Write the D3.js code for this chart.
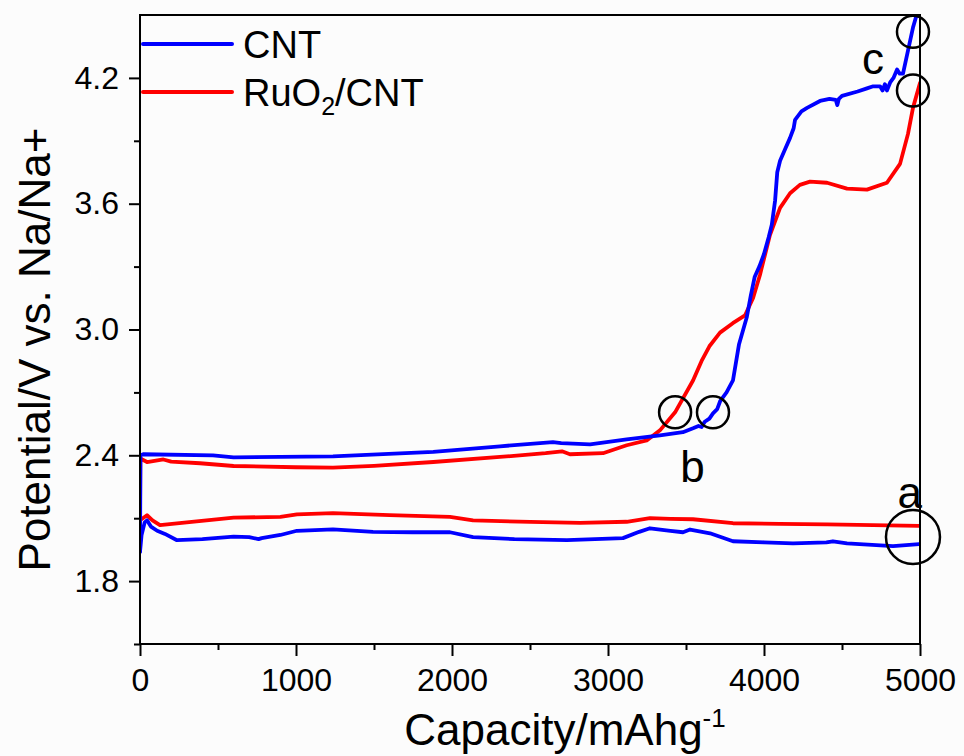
<!DOCTYPE html>
<html>
<head>
<meta charset="utf-8">
<script src="https://cdn.jsdelivr.net/npm/d3@7/dist/d3.min.js"></script>
<style>
  html, body { margin: 0; padding: 0; background: #fcfcfc; }
  svg { display: block; font-family: "Liberation Sans", Arial, sans-serif; }
</style>
</head>
<body>
<svg id="chart" width="964" height="756"></svg>
<script>
// Galvanostatic discharge/charge profiles, [capacity (mAh/g), potential (V)]
const cntDischarge = [
  [0,1.94],[10,2.02],[30,2.08],[45,2.09],[70,2.06],[110,2.04],[160,2.025],[237,1.995],
  [400,2.0],[600,2.012],[700,2.01],[760,2.0],[780,2.005],[900,2.02],[1006,2.04],
  [1237,2.047],[1494,2.035],[1750,2.033],[1987,2.033],[2135,2.01],[2400,2.0],[2737,1.995],
  [3096,2.005],[3200,2.035],[3269,2.052],[3400,2.04],[3481,2.033],[3526,2.046],[3654,2.028],
  [3801,1.99],[4000,1.985],[4186,1.98],[4400,1.985],[4442,1.99],[4532,1.98],[4827,1.967],[4994,1.976]
];
const ruo2Discharge = [
  [0,2.09],[45,2.114],[80,2.09],[128,2.067],[300,2.08],[600,2.103],[900,2.106],[1006,2.118],
  [1237,2.124],[1600,2.115],[1987,2.106],[2135,2.09],[2500,2.082],[2821,2.078],[3120,2.083],
  [3269,2.1],[3400,2.097],[3545,2.095],[3801,2.076],[4100,2.073],[4404,2.071],[4994,2.063]
];
const cntCharge = [
  [0,1.94],[3,2.4],[20,2.405],[468,2.4],[600,2.39],[1237,2.395],[1880,2.416],[2308,2.443],
  [2647,2.463],[2700,2.458],[2885,2.452],[3120,2.476],[3333,2.495],[3480,2.51],[3545,2.529],
  [3580,2.54],[3600,2.535],[3620,2.56],[3650,2.575],[3673,2.6],[3700,2.62],[3720,2.66],
  [3760,2.7],[3801,2.757],[3840,2.93],[3890,3.06],[3915,3.16],[3940,3.25],[3970,3.3],
  [4000,3.36],[4030,3.44],[4050,3.5],[4071,3.614],[4085,3.75],[4103,3.805],
  [4135,3.86],[4167,3.914],[4190,3.96],[4199,4.0],[4240,4.04],[4276,4.057],[4359,4.09],
  [4420,4.1],[4460,4.095],[4470,4.07],[4480,4.1],[4500,4.114],[4600,4.135],[4660,4.15],
  [4700,4.16],[4744,4.16],[4760,4.14],[4775,4.17],[4788,4.14],[4810,4.18],[4830,4.2],
  [4853,4.24],[4870,4.22],[4891,4.22],[4923,4.33],[4955,4.44],[4990,4.53]
];
const ruo2Charge = [
  [0,2.09],[2,2.385],[45,2.368],[150,2.38],[200,2.37],[385,2.362],[600,2.349],[1000,2.343],
  [1237,2.341],[1500,2.35],[1880,2.368],[2308,2.392],[2600,2.41],[2705,2.419],[2756,2.405],
  [2968,2.41],[3120,2.448],[3248,2.471],[3333,2.519],[3430,2.605],[3545,2.757],[3600,2.85],
  [3650,2.92],[3718,2.985],[3800,3.03],[3878,3.067],[3930,3.15],[3974,3.26],[4038,3.45],
  [4103,3.58],[4167,3.65],[4230,3.69],[4295,3.705],[4404,3.7],[4532,3.672],[4660,3.667],
  [4788,3.7],[4872,3.79],[4923,3.933],[4955,4.057],[5000,4.176]
];

const xTicks = [0, 1000, 2000, 3000, 4000, 5000];
const xMinorTicks = [500, 1500, 2500, 3500, 4500];
const yTicks = [1.8, 2.4, 3.0, 3.6, 4.2];
const yMinorTicks = [1.5, 2.1, 2.7, 3.3, 3.9];

// Marked states: circles at [capacity, potential] and their letters
const markers = [
  { x: 4955, y: 2.01, big: true },
  { x: 3430, y: 2.605, big: false },
  { x: 3673, y: 2.605, big: false },
  { x: 4955, y: 4.42, big: false },
  { x: 4955, y: 4.14, big: false }
];
const letters = [
  { text: "a", x: 4855, y: 2.15 },
  { text: "b", x: 3463, y: 2.274 },
  { text: "c", x: 4628, y: 4.218 }
];

const seriesNames = ["CNT", "RuO2/CNT"];
const seriesColors = ["#0000ff", "#ff0000"];

const svg = d3.select("#chart");
const plotLeft = 140, plotRight = 920, plotTop = 15, plotBottom = 644;

const x = d3.scaleLinear().domain([0, 5000]).range([plotLeft, plotRight]);
const y = d3.scaleLinear().domain([1.5, 4.5]).range([plotBottom, plotTop]);

svg.append("defs").append("clipPath").attr("id", "plotClip")
  .append("rect").attr("x", plotLeft).attr("y", plotTop)
  .attr("width", plotRight - plotLeft).attr("height", plotBottom - plotTop);

const line = d3.line().x(d => x(d[0])).y(d => y(d[1]));

const plot = svg.append("g").attr("clip-path", "url(#plotClip)");
[[ruo2Discharge, 1], [ruo2Charge, 1], [cntDischarge, 0], [cntCharge, 0]].forEach(([data, i]) => {
  plot.append("path").datum(data)
    .attr("d", line)
    .attr("fill", "none")
    .attr("stroke", seriesColors[i])
    .attr("stroke-width", 3.8)
    .attr("stroke-linejoin", "round")
    .attr("stroke-linecap", "round");
});

// frame
svg.append("rect").attr("x", plotLeft).attr("y", plotTop)
  .attr("width", plotRight - plotLeft).attr("height", plotBottom - plotTop)
  .attr("fill", "none").attr("stroke", "#000").attr("stroke-width", 2);

// x axis
svg.append("g").attr("transform", `translate(0,${plotBottom})`)
  .call(d3.axisBottom(x).tickValues(xTicks).tickSize(12).tickPadding(12).tickFormat(d3.format("d")));
svg.append("g").attr("transform", `translate(0,${plotBottom})`)
  .call(d3.axisBottom(x).tickValues(xMinorTicks).tickSize(6).tickFormat(""));

// y axis
svg.append("g").attr("transform", `translate(${plotLeft},0)`)
  .call(d3.axisLeft(y).tickValues(yTicks).tickSize(11).tickPadding(10).tickFormat(d3.format(".1f")));
svg.append("g").attr("transform", `translate(${plotLeft},0)`)
  .call(d3.axisLeft(y).tickValues(yMinorTicks).tickSize(6).tickFormat(""));

svg.selectAll(".domain").remove();
svg.selectAll(".tick line").attr("stroke", "#000").attr("stroke-width", 2);
svg.selectAll(".tick text").attr("fill", "#000").style("font-size", "32px")
  .style("font-family", "'Liberation Sans', Arial, sans-serif");

// axis titles
const xt = svg.append("text").attr("x", 565).attr("y", 745)
  .attr("text-anchor", "middle").style("font-size", "44px").attr("fill", "#000");
xt.append("tspan").text("Capacity/mAhg");
xt.append("tspan").attr("dy", -18).style("font-size", "26px").text("-1");

svg.append("text")
  .attr("transform", `translate(50,${(plotTop + plotBottom) / 2 + 20}) rotate(-90)`)
  .attr("text-anchor", "middle").style("font-size", "44px").attr("fill", "#000")
  .text("Potential/V vs. Na/Na+");

// legend
const legend = svg.append("g");
seriesNames.forEach((name, i) => {
  const ly = 44 + i * 48;
  legend.append("line").attr("x1", 143).attr("x2", 232).attr("y1", ly).attr("y2", ly)
    .attr("stroke", seriesColors[i]).attr("stroke-width", 4).attr("stroke-linecap", "round");
  const t = legend.append("text").attr("x", 243).attr("y", ly + 14)
    .style("font-size", "38px").attr("fill", "#000");
  if (name === "RuO2/CNT") {
    t.append("tspan").text("RuO");
    t.append("tspan").attr("dy", 9).style("font-size", "25px").text("2");
    t.append("tspan").attr("dy", -9).text("/CNT");
  } else {
    t.text(name);
  }
});

// marker circles and letters
svg.selectAll("circle.mark").data(markers).enter().append("circle")
  .attr("class", "mark")
  .attr("cx", d => x(d.x)).attr("cy", d => y(d.y))
  .attr("r", d => d.big ? 27 : 16)
  .attr("fill", "none").attr("stroke", "#000").attr("stroke-width", 2.5);

svg.selectAll("text.letter").data(letters).enter().append("text")
  .attr("class", "letter")
  .attr("x", d => x(d.x)).attr("y", d => y(d.y))
  .style("font-size", "44px").attr("fill", "#000")
  .text(d => d.text);
</script>
</body>
</html>
